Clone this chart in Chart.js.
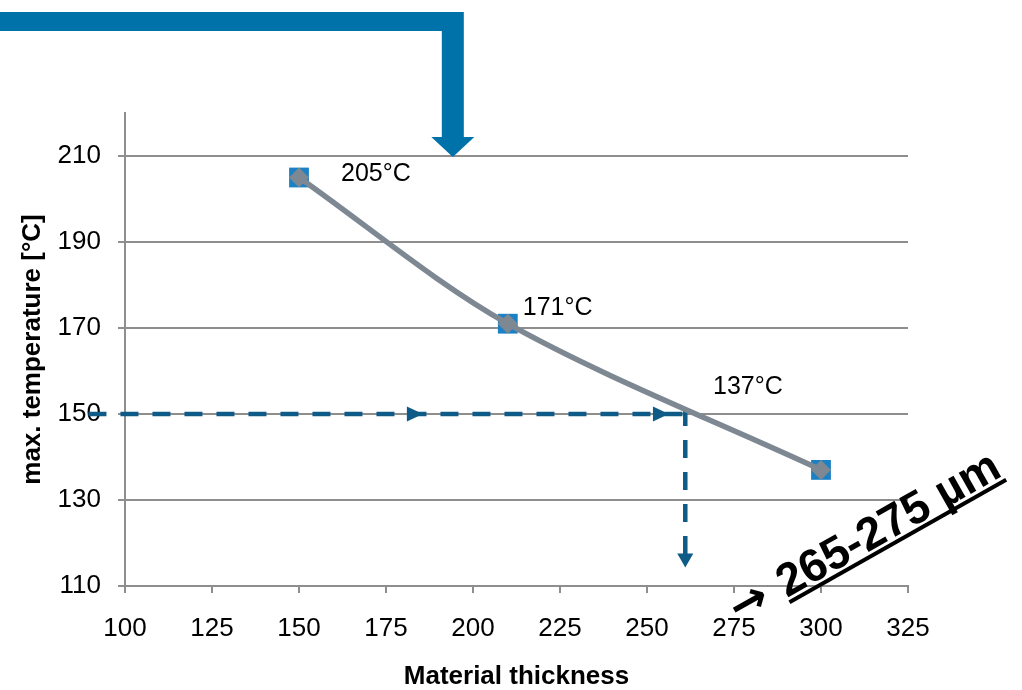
<!DOCTYPE html>
<html><head><meta charset="utf-8">
<script src="https://cdn.jsdelivr.net/npm/chart.js@4.4.0/dist/chart.umd.min.js"></script>
<style>html,body{margin:0;padding:0;background:#fff;overflow:hidden}canvas{display:block}</style>
</head><body>
<canvas id="c" width="1022" height="690"></canvas>
<script>
// ---- data ----
const thickness = [150, 210, 300];
const maxTemp = [205, 171, 137];
const valueLabels = maxTemp.map(v => v + '°C');
const xTicks = [100, 125, 150, 175, 200, 225, 250, 275, 300, 325];
const yTicks = [110, 130, 150, 170, 190, 210];
const guideXs = [89.5, 261];      // horizontal guide: from / to (thickness)
const guideTemp = 150;            // horizontal guide level
const guideVTop = 151.4;          // vertical guide start (temperature)
const guideVBottom = 116.8;       // vertical guide end (temperature)
const arrowHeadsX = [185.6, 256.3];
const arrowDownTipY = 114.3;
const bigArrowTip = [194.2, 210];
const rangeLabel = '265-275 µm';
const xTitle = 'Material thickness';
const yTitle = 'max. temperature [°C]';

const FONT = "'Liberation Sans', Arial, sans-serif";
const GRID = '#8e8e8e';
const LINE = '#7d8892';
const SQUARE = '#1b80c4';
const GUIDE = '#0d5b86';
const BIG = '#0072aa';

const pts = thickness.map((x, i) => ({x, y: maxTemp[i]}));

const decor = {
  id: 'decor',
  afterDraw(chart) {
    const ctx = chart.ctx;
    const xs = chart.scales.x, ys = chart.scales.y;
    ctx.save();
    // big arrow
    const tx = xs.getPixelForValue(bigArrowTip[0]);
    const ty = ys.getPixelForValue(bigArrowTip[1]) + 1;
    ctx.fillStyle = BIG;
    ctx.beginPath();
    ctx.moveTo(0, 12);
    ctx.lineTo(tx + 11, 12);
    ctx.lineTo(tx + 11, ty - 20);
    ctx.lineTo(tx + 21.5, ty - 20);
    ctx.lineTo(tx, ty);
    ctx.lineTo(tx - 21.5, ty - 20);
    ctx.lineTo(tx - 11, ty - 20);
    ctx.lineTo(tx - 11, 31);
    ctx.lineTo(0, 31);
    ctx.closePath();
    ctx.fill();

    // guide arrowheads
    ctx.fillStyle = GUIDE;
    const gy = ys.getPixelForValue(guideTemp);
    arrowHeadsX.forEach(v => {
      const px = xs.getPixelForValue(v);
      ctx.beginPath();
      ctx.moveTo(px, gy);
      ctx.lineTo(px - 16, gy - 7.5);
      ctx.lineTo(px - 16, gy + 7.5);
      ctx.closePath();
      ctx.fill();
    });
    const dx = xs.getPixelForValue(guideXs[1]);
    const dy = ys.getPixelForValue(arrowDownTipY);
    ctx.beginPath();
    ctx.moveTo(dx, dy);
    ctx.lineTo(dx - 8, dy - 14);
    ctx.lineTo(dx + 8, dy - 14);
    ctx.closePath();
    ctx.fill();

    // value labels
    const offs = [[42, -3], [15, -16], [-108, -83]];
    ctx.fillStyle = '#000';
    ctx.font = '25px ' + FONT;
    ctx.textAlign = 'left';
    ctx.textBaseline = 'middle';
    valueLabels.forEach((t, i) => {
      const px = xs.getPixelForValue(thickness[i]);
      const py = ys.getPixelForValue(maxTemp[i]);
      ctx.fillText(t, px + offs[i][0], py + offs[i][1]);
    });

    // rotated range label
    ctx.translate(787, 598);
    ctx.rotate(-29.5 * Math.PI / 180);
    ctx.font = 'bold 46px ' + FONT;
    ctx.textBaseline = 'alphabetic';
    ctx.textAlign = 'left';
    ctx.fillText(rangeLabel, 0, 0);
    const w = ctx.measureText(rangeLabel).width;
    ctx.fillRect(0, 3, w, 4);
    ctx.font = "bold 46px 'DejaVu Sans', sans-serif";
    ctx.textAlign = 'right';
    ctx.fillText('→', -16, -1);
    ctx.restore();
  }
};

new Chart(document.getElementById('c'), {
  type: 'line',
  data: {
    datasets: [
      { data: pts, borderColor: LINE, borderWidth: 5.5, tension: 0.32, fill: false,
        pointStyle: 'rectRot', pointRadius: 10, pointBackgroundColor: LINE, pointBorderWidth: 0 },
      { data: pts, showLine: false, pointStyle: 'rect', pointRadius: 14,
        pointBackgroundColor: SQUARE, pointBorderWidth: 0 },
      { data: guideXs.map(x => ({x, y: guideTemp})), borderColor: GUIDE, borderWidth: 4.5,
        borderDash: [18, 14], pointRadius: 0, clip: false, tension: 0 },
      { data: [{x: guideXs[1], y: guideVTop}, {x: guideXs[1], y: guideVBottom}], borderColor: GUIDE,
        borderWidth: 4.5, borderDash: [18, 14], pointRadius: 0, clip: false, tension: 0 }
    ]
  },
  options: {
    responsive: false,
    animation: false,
    devicePixelRatio: 1,
    layout: { padding: { top: 113, right: 114, bottom: 0, left: 0 } },
    plugins: { legend: { display: false }, tooltip: { enabled: false } },
    scales: {
      x: {
        type: 'linear', position: 'bottom', min: 100, max: 325,
        afterBuildTicks: s => { s.ticks = xTicks.map(v => ({value: v})); },
        afterFit: s => { s.height = 104; },
        grid: { drawOnChartArea: false, drawTicks: true, tickLength: 7, color: GRID, lineWidth: 2 },
        border: { display: true, color: GRID, width: 2 },
        ticks: { color: '#000', font: { family: FONT, size: 26, lineHeight: 1 }, padding: 23, maxRotation: 0, autoSkip: false },
        title: { display: true, text: xTitle, color: '#000', font: { family: FONT, size: 26, weight: 'bold', lineHeight: 1 }, padding: { top: 0, bottom: 0 } }
      },
      y: {
        type: 'linear', min: 110, max: 220,
        afterBuildTicks: s => { s.ticks = yTicks.map(v => ({value: v})); },
        afterFit: s => { s.width = 125; },
        grid: { drawTicks: true, tickLength: 7, color: GRID, lineWidth: 2 },
        border: { display: true, color: GRID, width: 2 },
        ticks: { color: '#000', font: { family: FONT, size: 26, lineHeight: 1 }, padding: 17 },
        title: { display: true, text: yTitle, color: '#000', font: { family: FONT, size: 26, weight: 'bold', lineHeight: 1 }, padding: { top: 20, bottom: 0 } }
      }
    }
  },
  plugins: [decor]
});
</script>
</body></html>
